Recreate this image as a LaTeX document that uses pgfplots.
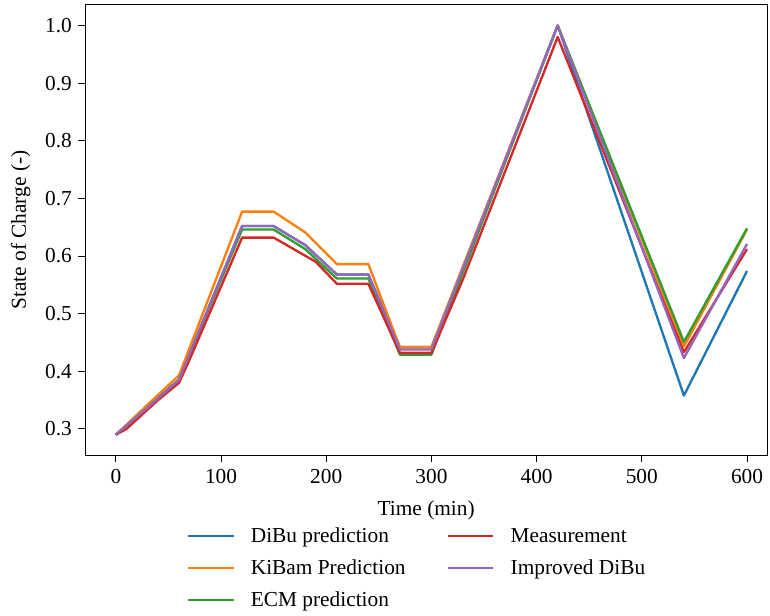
\documentclass[border=0pt]{standalone}
\usepackage{fontspec}
\setmainfont{Liberation Serif}
\usepackage{pgfplots}
\pgfplotsset{compat=1.18}
\definecolor{c0}{HTML}{1F77B4}
\definecolor{c1}{HTML}{FF7F0E}
\definecolor{c2}{HTML}{2CA02C}
\definecolor{c3}{HTML}{D62728}
\definecolor{c4}{HTML}{9467BD}
\begin{document}
\begin{tikzpicture}
\begin{axis}[
  name=ax,
  scale only axis,
  width=511pt, height=337.5pt,
  xmin=-29, xmax=619,
  ymin=0.2545, ymax=1.0355,
  xtick={0,100,...,600},
  ytick={0.3,0.4,...,1.0},
  /pgf/number format/assume math mode=true,
  tick label style={font=\fontsize{16}{19}\selectfont},
  xticklabel style={yshift=-2pt},
  yticklabel style={xshift=-1.4pt, /pgf/number format/.cd,fixed,fixed zerofill,precision=1},
  label style={font=\fontsize{16}{19}\selectfont},
  tick align=outside, tick pos=left,
  major tick length=5.25pt,
  xlabel={Time (min)}, ylabel={State of Charge (-)},
  xlabel style={at={(axis description cs:0.5,-0.122)}, anchor=center},
  ylabel style={at={(axis description cs:-0.095,0.5)}, anchor=center},
  axis line style={line width=0.75pt},
  every tick/.style={black, line width=0.75pt},
  legend columns=3,
  transpose legend,
  legend cell align=left,
  legend style={draw=none, fill=none, inner sep=0pt,
    at={(axis description cs:0.149,-0.1555)}, anchor=north west,
    font=\fontsize{16}{19}\selectfont,
    nodes={text height=11pt, text depth=3.5pt, inner sep=2pt},
    row sep=5.5pt,
    /tikz/every odd column/.append style={column sep=10pt},
    /tikz/every even column/.append style={column sep=29pt}},
  legend image code/.code={\draw[#1] (0pt,1.5pt) -- (34pt,1.5pt);},
  every axis plot/.append style={line width=1.75pt, line join=round},
]
\addplot[c0] coordinates {(0,0.29) (30,0.338) (60,0.386) (120,0.652) (150,0.652) (180,0.619) (210,0.568) (240,0.568) (270,0.442) (300,0.442) (420,1.0) (540,0.358) (600,0.574)};
\addlegendentry{DiBu prediction}
\addplot[c1] coordinates {(0,0.29) (30,0.342) (60,0.393) (120,0.677) (150,0.677) (180,0.641) (210,0.586) (240,0.586) (270,0.442) (300,0.442) (420,1.0) (540,0.443) (600,0.646)};
\addlegendentry{KiBam Prediction}
\addplot[c2] coordinates {(0,0.29) (30,0.337) (60,0.385) (120,0.646) (150,0.646) (180,0.612) (210,0.561) (240,0.561) (270,0.429) (300,0.429) (420,1.0) (540,0.451) (600,0.648)};
\addlegendentry{ECM prediction}
\addplot[c3] coordinates {(0,0.29) (10,0.30) (40,0.35) (60,0.38) (70,0.42) (120,0.632) (150,0.632) (190,0.59) (210,0.552) (240,0.552) (270,0.432) (300,0.432) (330,0.56) (360,0.70) (390,0.84) (420,0.98) (540,0.433) (600,0.612)};
\addlegendentry{Measurement}
\addplot[c4] coordinates {(0,0.29) (30,0.337) (60,0.385) (120,0.652) (150,0.652) (180,0.619) (210,0.568) (240,0.568) (270,0.438) (300,0.438) (420,1.0) (540,0.423) (600,0.621)};
\addlegendentry{Improved DiBu}
\end{axis}
\pgfresetboundingbox
\path ([xshift=-64pt,yshift=-120pt]ax.south west) rectangle ([xshift=2.25pt,yshift=3.75pt]ax.north east);
\end{tikzpicture}
\end{document}
